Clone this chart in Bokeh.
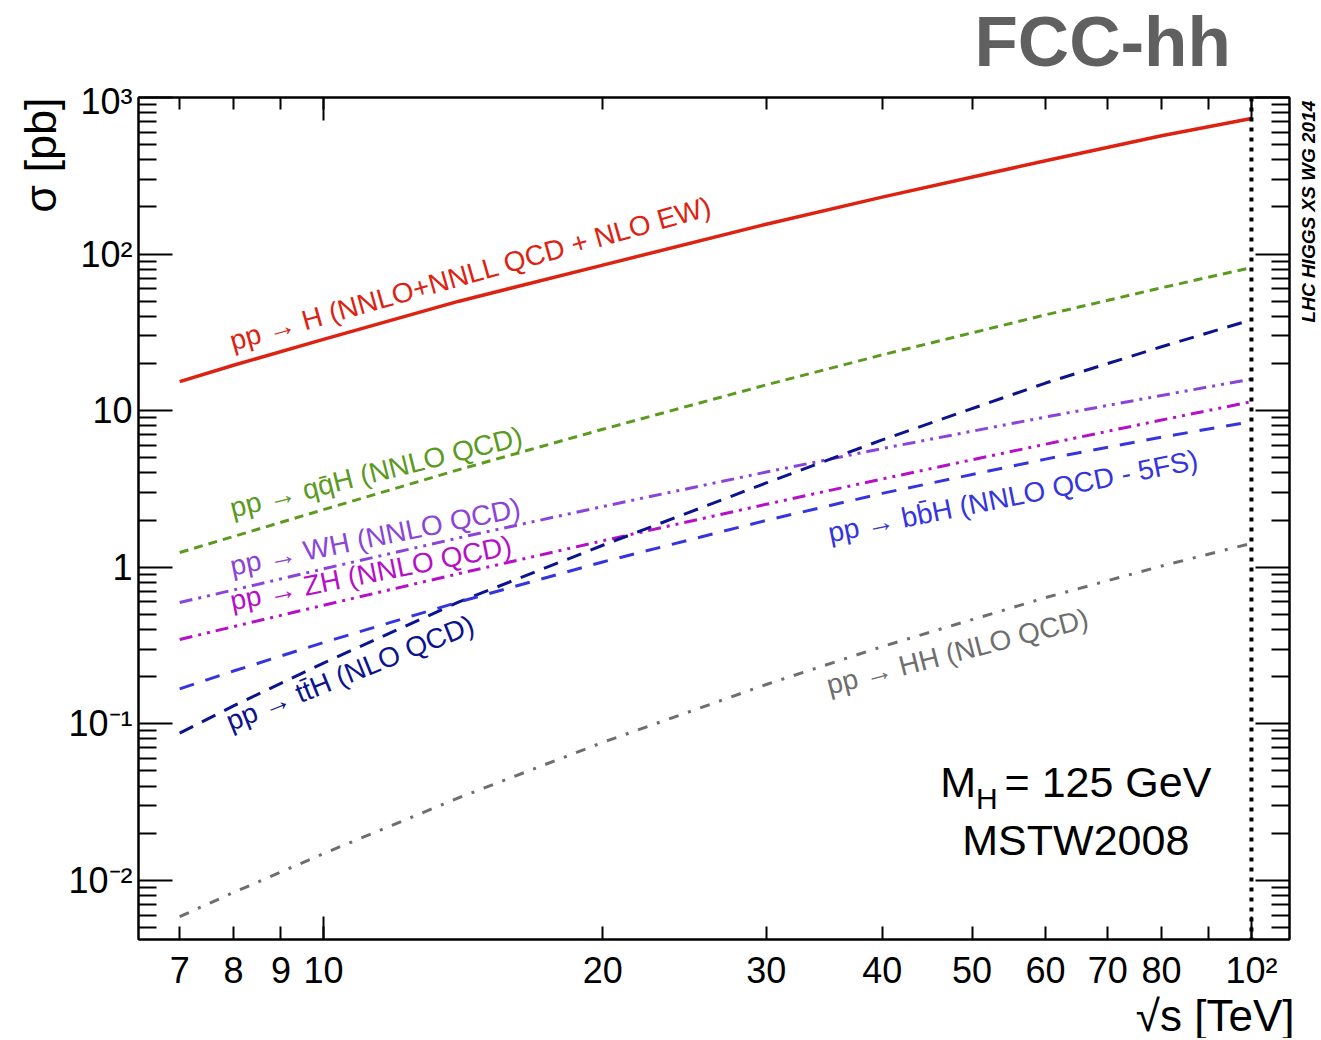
import math
from bokeh.plotting import figure
from bokeh.layouts import column, row
from bokeh.models import Range1d, FixedTicker, LogAxis, Span, Label, Title, ColumnDataSource
from bokeh.core.properties import value
from bokeh.embed import file_html
from bokeh.resources import INLINE

# ---------------- data ----------------
energies = [7, 8, 10, 14, 20, 30, 40, 60, 80, 100]          # sqrt(s) [TeV]
xs_ggH = [15.3, 19.5, 28.5, 50.0, 85.0, 155.0, 231.0, 394.5, 569.8, 735.0]
xs_qqH = [1.24, 1.57, 2.33, 4.2, 7.6, 14.6, 22.7, 40.9, 60.9, 82.0]
xs_WH = [0.595, 0.715, 0.975, 1.54, 2.44, 4.05, 5.72, 9.1, 12.5, 15.9]
xs_ZH = [0.345, 0.417, 0.571, 0.91, 1.475, 2.52, 3.66, 6.10, 8.70, 11.4]
xs_ttH = [0.087, 0.130, 0.244, 0.60, 1.38, 3.45, 6.5, 15.0, 25.6, 38.0]
xs_bbH = [0.167, 0.217, 0.330, 0.60, 1.08, 1.99, 2.96, 4.90, 6.77, 8.5]
xs_HH = [0.00586, 0.00835, 0.0148, 0.0337, 0.076, 0.178, 0.311, 0.639, 1.017, 1.42]

fcc_energy = 100

x_ticks = [7, 8, 9, 10, 20, 30, 40, 50, 60, 70, 80, 90, 100]
x_tick_labels = ["7", "8", "9", "10", "20", "30", "40", "50", "60", "70", "80", "", "10²"]
x_decades = [10, 100]
y_ticks = [0.01, 0.1, 1, 10, 100, 1000]
y_tick_labels = ["10⁻²", "10⁻¹", "1", "10", "10²", "10³"]
y_minor = [k * 10.0 ** d for d in range(-3, 3) for k in range(2, 10)]

process_labels = [
    "pp → H (NNLO+NNLL QCD + NLO EW)",
    "pp → qq̄H (NNLO QCD)",
    "pp → WH (NNLO QCD)",
    "pp → ZH (NNLO QCD)",
    "pp → tt̄H (NLO QCD)",
    "pp → bb̄H (NNLO QCD - 5FS)",
    "pp → HH (NLO QCD)",
]

# ---------------- styles ----------------
FONT = "Liberation Sans"
colors = ["#dd2211", "#5b9a1e", "#8b44d9", "#b510c8", "#0b138f", "#3535e0", "#6e6e6e"]
dashes = ["solid", "9 6", "13 6 3 6 3 6", "13 6 3 6 3 6", "15 10", "15 12", "10 10 3 10"]
widths = [3.5, 3, 3, 3, 3, 3, 3]
series = [xs_ggH, xs_qqH, xs_WH, xs_ZH, xs_ttH, xs_bbH, xs_HH]

label_x = [7.94, 7.94, 7.94, 7.94, 7.88, 35.0, 34.9]
label_y = [27.6, 2.37, 1.012, 0.606, 0.1018, 1.65, 0.175]
label_angle_deg = [15.8, 14.0, 11.5, 11.3, 22.0, 11.3, 14.6]

TOP_H = 80
MAIN_W, MAIN_H = 1298, 958
RIGHT_W = 23

p = figure(width=MAIN_W, height=MAIN_H, x_axis_type="log", y_axis_type="log",
           x_range=Range1d(6.32, 109.9), y_range=Range1d(0.004185, 1000),
           output_backend="svg", toolbar_location=None, title=None,
           min_border_left=138, min_border_right=9, min_border_top=17, min_border_bottom=95)
p.grid.visible = False
p.outline_line_color = "black"
p.outline_line_width = 2
p.background_fill_color = "white"
p.border_fill_color = "white"


def style(ax, ticks, labels, minor, major_len, minor_len, show):
    ax.ticker = FixedTicker(ticks=ticks, minor_ticks=minor)
    ax.major_tick_in = major_len
    ax.major_tick_out = 0
    ax.minor_tick_in = minor_len
    ax.minor_tick_out = 0
    ax.major_tick_line_width = 2
    ax.minor_tick_line_width = 2
    ax.axis_line_width = 2
    ax.axis_line_color = "black"
    ax.major_tick_line_color = "black"
    ax.minor_tick_line_color = "black"
    if show:
        ax.major_label_overrides = {t: l for t, l in zip(ticks, labels)}
        ax.major_label_text_font = FONT
        ax.major_label_text_font_size = "36px"
        ax.major_label_text_color = "black"
    else:
        ax.major_label_overrides = {t: "" for t in ticks}
        ax.major_label_text_font_size = "0px"
        ax.major_label_standoff = 0


# x axes: every labelled tick short, decades (10, 100) drawn long
style(p.xaxis[0], x_ticks, x_tick_labels, x_decades, 13, 23, True)
p.xaxis[0].major_label_standoff = 10
style(p.yaxis[0], y_ticks, y_tick_labels, y_minor, 34, 18, True)
p.yaxis[0].major_label_standoff = 6

top = LogAxis()
style(top, x_ticks, x_tick_labels, x_decades, 12, 23, False)
p.add_layout(top, "above")
right = LogAxis()
style(right, y_ticks, y_tick_labels, y_minor, 34, 18, False)
p.add_layout(right, "right")

# axis titles (outside the frame)
p.add_layout(Title(text="σ [pb]", align="right", offset=0, vertical_align="bottom",
                   standoff=0, text_font=FONT, text_font_size="45px",
                   text_font_style="normal", text_color="black"), "left")
p.add_layout(Title(text="√s [TeV]", align="right", offset=-5, vertical_align="top",
                   standoff=-6, text_font=FONT, text_font_size="44px",
                   text_font_style="normal", text_color="black"), "below")

# curves
for ys, c, d, w in zip(series, colors, dashes, widths):
    p.line(energies, ys, line_color=c, line_width=w, line_dash=d)

p.add_layout(Span(location=fcc_energy, dimension="height", line_color="black",
                  line_dash="4 6", line_width=4))

src = ColumnDataSource(dict(x=label_x, y=label_y, text=process_labels,
                            angle=[math.radians(a) for a in label_angle_deg], color=colors))
p.text(x="x", y="y", text="text", angle="angle", text_color="color", source=src,
       text_font=value(FONT), text_font_size="28px", text_baseline="alphabetic",
       text_align="left")


def lab(fig, x, y, text, size, **kw):
    fig.add_layout(Label(x=x, y=y, text=text, text_font=FONT, text_font_size=size,
                         text_baseline="alphabetic", **kw))


lab(p, 46.2, 0.04229, "M", "43px", text_color="black")
lab(p, 50.5, 0.03345, "H", "30px", text_color="black")
lab(p, 54.2, 0.04229, "= 125 GeV", "43px", text_color="black")
lab(p, 48.8, 0.01809, "MSTW2008", "43px", text_color="black")


def strip(w, h, y0, y1):
    s = figure(width=w, height=h, x_range=Range1d(0, w), y_range=Range1d(y1, y0),
               x_axis_location=None, y_axis_location=None, min_border=0,
               toolbar_location=None, output_backend="svg", title=None)
    s.outline_line_color = None
    s.grid.visible = False
    s.background_fill_color = "white"
    s.border_fill_color = "white"
    return s


p_top = strip(MAIN_W + RIGHT_W, TOP_H, 0, TOP_H)
lab(p_top, 974, 41, "FCC-hh", "71px", text_font_style="bold", text_color="#606060")

# the right strip's frame is aligned with the main frame (page y 97 .. 943)
p_right = strip(RIGHT_W, MAIN_H, 97, 943)
lab(p_right, 10, 323, "LHC HIGGS XS WG 2014", "19px", text_font_style="bold italic",
    text_color="black", angle=math.pi / 2)

layout = column(p_top, row(p, p_right))
open("out.html", "w").write(file_html(layout, INLINE))
